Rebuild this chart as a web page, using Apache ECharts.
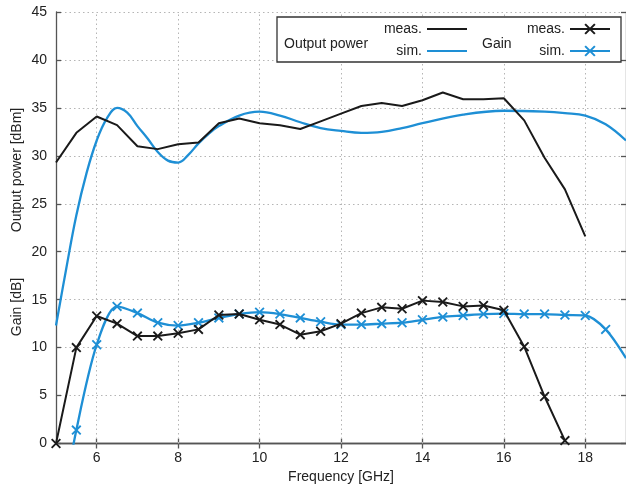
<!DOCTYPE html>
<html>
<head>
<meta charset="utf-8">
<script src="https://cdn.jsdelivr.net/npm/echarts@6/dist/echarts.min.js"></script>
<style>html,body{margin:0;padding:0;background:#fff}#c{width:626px;height:492px}</style>
</head>
<body>
<div id="c"></div>
<script>
// ---- data ----
const powerMeasFreq = [5,5.5,6,6.5,7,7.5,8,8.5,9,9.5,10,10.5,11,11.5,12,12.5,13,13.5,14,14.5,15,15.5,16,16.5,17,17.5,18];
const powerMeasVals = [29.3,32.4,34.1,33.2,31.0,30.7,31.2,31.4,33.4,33.9,33.4,33.2,32.8,33.6,34.4,35.2,35.5,35.2,35.8,36.6,35.9,35.9,36.0,33.7,29.8,26.5,21.6];
const powerSimFreq = [5,5.25,5.5,5.75,6,6.25,6.5,6.75,7,7.25,7.5,7.75,8,8.25,8.5,8.75,9,9.5,10,10.5,11,11.5,12,12.5,13,13.5,14,15,16,17,17.5,18,18.5,19];
const powerSimVals = [12.3,18.2,23.8,28.2,31.6,33.9,35.0,34.5,33.1,31.8,30.4,29.5,29.3,30.1,31.3,32.3,33.1,34.2,34.6,34.2,33.5,32.9,32.6,32.4,32.5,32.9,33.4,34.3,34.7,34.6,34.45,34.2,33.3,31.6];
const gainMeasFreq = [5,5.5,6,6.5,7,7.5,8,8.5,9,9.5,10,10.5,11,11.5,12,12.5,13,13.5,14,14.5,15,15.5,16,16.5,17,17.5];
const gainMeasVals = [0,10.0,13.3,12.5,11.2,11.2,11.5,11.9,13.4,13.5,12.9,12.4,11.35,11.7,12.5,13.6,14.2,14.05,14.9,14.75,14.3,14.4,13.9,10.1,4.9,0.3];
const gainSimFreq = [5,5.5,6,6.5,7,7.5,8,8.5,9,9.5,10,10.5,11,11.5,12,12.5,13,13.5,14,14.5,15,15.5,16,16.5,17,17.5,18,18.5,19];
const gainSimVals = [-10,1.4,10.3,14.3,13.6,12.6,12.3,12.6,13.1,13.5,13.7,13.5,13.1,12.7,12.4,12.4,12.5,12.6,12.9,13.2,13.35,13.5,13.55,13.5,13.5,13.4,13.35,11.9,8.9];
const xTicks = [6,8,10,12,14,16,18];
const yTicks = [0,5,10,15,20,25,30,35,40,45];
const seriesNames = ['Output power meas.','Output power sim.','Gain meas.','Gain sim.'];

const BLACK = '#1a1a1a', BLUE = '#1e8fd5';
const XSYM = 'path://M0,1.3L1.3,0L10,8.7L8.7,10ZM8.7,0L10,1.3L1.3,10L0,8.7Z';
const FONT = 'Liberation Sans, Arial, sans-serif';
const pairs = (xs, ys) => xs.map((x,i)=>[x, ys[i]]);

const gainSimData = pairs(gainSimFreq, gainSimVals).map((p,i,a)=>
  (p[1] < 0 || i === a.length-1) ? {value:p, symbol:'none'} : p);

const chart = echarts.init(document.getElementById('c'));
const axisLineStyle = {color:'#555', width:1.3};
const dotted = {color:'#b5b5b5', width:1, type:[1.5,3]};

function legendAt(name, right, top, hideSymbol) {
  return {
    data:[hideSymbol ? {name:name, itemStyle:{opacity:0}} : {name:name}],
    right:right, top:top, padding:0, itemWidth:40, itemHeight:14, z:11,
    align:'right', selectedMode:false,
    formatter: n => n.split(' ').pop(),
    textStyle:{fontFamily:FONT, fontSize:14, color:'#222'}
  };
}

chart.setOption({
  animation:false,
  grid:{left:56, right:0, top:12, bottom:48.5, containLabel:false},
  xAxis:[{
    type:'value', min:5, max:19, position:'bottom',
    name:'Frequency [GHz]', nameLocation:'middle', nameGap:27,
    nameTextStyle:{fontFamily:FONT, fontSize:14, color:'#222'},
    axisLine:{show:true, lineStyle:axisLineStyle},
    axisTick:{show:true, inside:true, length:5, customValues:xTicks, lineStyle:axisLineStyle},
    axisLabel:{customValues:xTicks, margin:8, fontFamily:FONT, fontSize:14, color:'#222'},
    splitLine:{show:false}
  },{
    type:'value', min:5, max:19, position:'top',
    axisLine:{show:true, lineStyle:axisLineStyle},
    axisTick:{show:true, inside:true, length:5, customValues:xTicks, lineStyle:axisLineStyle},
    axisLabel:{show:false}, splitLine:{show:false}
  }],
  yAxis:[{
    type:'value', min:0, max:45, interval:5, position:'left',
    axisLine:{show:true, lineStyle:axisLineStyle},
    axisTick:{show:true, inside:true, length:5, lineStyle:axisLineStyle},
    axisLabel:{margin:9, fontFamily:FONT, fontSize:14, color:'#222'},
    splitLine:{show:true, lineStyle:dotted}
  },{
    type:'value', min:0, max:45, interval:5, position:'right',
    axisLine:{show:true, lineStyle:axisLineStyle},
    axisTick:{show:true, inside:true, length:5, lineStyle:axisLineStyle},
    axisLabel:{show:false}, splitLine:{show:false}
  }],
  legend:[
    legendAt(seriesNames[0], 158, 22, true),
    legendAt(seriesNames[1], 158, 44, true),
    legendAt(seriesNames[2], 15, 22, false),
    legendAt(seriesNames[3], 15, 44, false)
  ],
  graphic:[
    {type:'rect', z:10, shape:{x:277, y:17, width:344, height:45},
      style:{fill:'#fff', stroke:'#333', lineWidth:1.3}},
    {type:'text', z:12, x:284, y:44, style:{text:'Output power', font:'14px '+FONT, fill:'#222', textVerticalAlign:'middle'}},
    {type:'text', z:12, x:482, y:44, style:{text:'Gain', font:'14px '+FONT, fill:'#222', textVerticalAlign:'middle'}},
    {type:'text', x:17, y:170, rotation:Math.PI/2, style:{text:'Output power [dBm]', font:'14px '+FONT, fill:'#222', textAlign:'center', textVerticalAlign:'middle'}},
    {type:'text', x:17, y:307, rotation:Math.PI/2, style:{text:'Gain [dB]', font:'14px '+FONT, fill:'#222', textAlign:'center', textVerticalAlign:'middle'}}
  ],
  series:[
    {name:seriesNames[0], type:'line', data:pairs(powerMeasFreq, powerMeasVals), symbol:'none',
      lineStyle:{color:BLACK, width:2}, itemStyle:{color:BLACK}, z:4,
      markLine:{silent:true, symbol:'none', label:{show:false}, lineStyle:dotted, z:1,
        data: xTicks.map(v=>({xAxis:v}))}},
    {name:seriesNames[1], type:'line', data:pairs(powerSimFreq, powerSimVals), symbol:'none', smooth:0.4,
      lineStyle:{color:BLUE, width:2.3}, itemStyle:{color:BLUE}, z:3},
    {name:seriesNames[2], type:'line', data:pairs(gainMeasFreq, gainMeasVals), symbol:XSYM, symbolSize:10, showAllSymbol:true,
      lineStyle:{color:BLACK, width:2}, itemStyle:{color:BLACK}, z:4},
    {name:seriesNames[3], type:'line', data:gainSimData, symbol:XSYM, symbolSize:10, showAllSymbol:true, smooth:0.3,
      lineStyle:{color:BLUE, width:2.3}, itemStyle:{color:BLUE}, z:3}
  ]
});
</script>
</body>
</html>
